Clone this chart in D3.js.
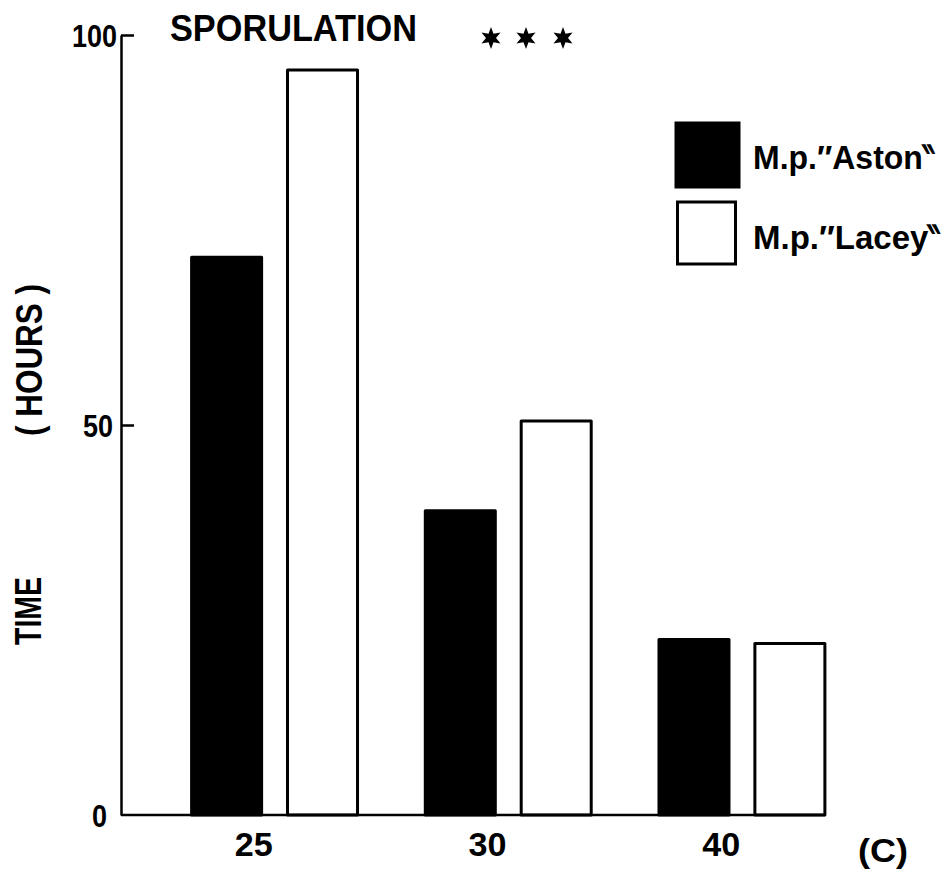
<!DOCTYPE html>
<html>
<head>
<meta charset="utf-8">
<script src="https://cdn.jsdelivr.net/npm/d3@7"></script>
<style>
  body { margin: 0; background: #fff; }
  svg { display: block; }
  .lbl { font-family: "Liberation Sans", Arial, sans-serif; font-weight: bold; }
</style>
</head>
<body>
<svg id="chart"></svg>
<script>
// data
const categories = ['25', '30', '40']
const seriesNames = ['Aston', 'Lacey']
const legendLabels = ['M.p.\u2033Aston\u2036', 'M.p.\u2033Lacey\u2036']
const astonHours = [71.5, 39, 22.5]
const laceyHours = [95.5, 50.5, 22]
const yTickValues = [0, 50, 100]

const width = 949
const height = 872

const svg = d3.select('#chart')
  .attr('width', width)
  .attr('height', height)

const axisX = 121
const baseY = 815
const topY = 35

// build rows for the grouped bars
const rows = categories.map((c, i) => ({
  cat: c,
  values: [
    { key: 'Aston', value: astonHours[i] },
    { key: 'Lacey', value: laceyHours[i] }
  ]
}))

const y = d3.scaleLinear().domain([0, 100]).range([baseY, topY])

const x0 = d3.scaleBand()
  .domain(categories)
  .range([axisX + 0.5, 895])
  .paddingInner(0.29)
  .paddingOuter(0.3)

const x1 = d3.scaleBand()
  .domain(seriesNames)
  .range([0, x0.bandwidth()])
  .paddingInner(0.27)

const fill = { Aston: '#000', Lacey: '#fff' }

// bars
const groups = svg.append('g')
  .selectAll('g')
  .data(rows)
  .enter()
  .append('g')
  .attr('transform', d => `translate(${x0(d.cat)},0)`)

groups.selectAll('rect')
  .data(d => d.values)
  .enter()
  .append('rect')
  .attr('x', d => x1(d.key))
  .attr('y', d => y(d.value))
  .attr('width', x1.bandwidth())
  .attr('height', d => y(0) - y(d.value))
  .attr('fill', d => fill[d.key])
  .attr('stroke', '#000')
  .attr('stroke-width', 3)
  .attr('stroke-linejoin', 'round')

// baseline up to the last bar
const lastRight = x0(categories[categories.length - 1]) + x1('Lacey') + x1.bandwidth()
svg.append('line')
  .attr('x1', axisX)
  .attr('x2', lastRight)
  .attr('y1', baseY)
  .attr('y2', baseY)
  .attr('stroke', '#000')
  .attr('stroke-width', 2.5)

// y axis, ticks pointing inward
const gy = svg.append('g')
  .attr('transform', `translate(${axisX},0)`)
  .call(d3.axisLeft(y).tickValues(yTickValues).tickSizeInner(-13).tickSizeOuter(0).tickPadding(5))

gy.select('.domain').attr('stroke-width', 2.5)
gy.selectAll('.tick line').attr('stroke-width', 2.5)
gy.selectAll('.tick').filter(d => d === 0).select('line').remove()

// labels: the right edge creeps left going down in the scan
const tickRight = { 0: -14, 50: -8, 100: -4 }
gy.selectAll('.tick text')
  .attr('class', 'lbl')
  .attr('font-size', 32)
  .attr('fill', '#000')
  .attr('dy', '0.36em')
  .attr('text-anchor', 'start')
  .attr('x', d => tickRight[d] - String(d).length * 15)
  .attr('textLength', d => String(d).length * 15)
  .attr('lengthAdjust', 'spacingAndGlyphs')

// x labels (sit left of the group centre in the original)
const gx = svg.append('g')
  .attr('transform', `translate(${-x0.bandwidth() * 0.125},${baseY})`)
  .call(d3.axisBottom(x0).tickSize(0).tickPadding(18))

gx.select('.domain').remove()
gx.selectAll('.tick text')
  .attr('class', 'lbl')
  .attr('font-size', 33)
  .attr('fill', '#000')
  .attr('textLength', 38)
  .attr('lengthAdjust', 'spacingAndGlyphs')

svg.append('text')
  .attr('class', 'lbl')
  .attr('x', 883)
  .attr('y', 862)
  .attr('text-anchor', 'middle')
  .attr('font-size', 34)
  .attr('textLength', 50)
  .attr('lengthAdjust', 'spacingAndGlyphs')
  .text('(C)')

// y title
svg.append('text')
  .attr('class', 'lbl')
  .attr('transform', 'translate(41,611) rotate(-90)')
  .attr('text-anchor', 'middle')
  .attr('font-size', 36)
  .attr('textLength', 68)
  .attr('lengthAdjust', 'spacingAndGlyphs')
  .text('TIME')

svg.append('text')
  .attr('class', 'lbl')
  .attr('transform', 'translate(42,360) rotate(-90)')
  .attr('text-anchor', 'middle')
  .attr('font-size', 36)
  .attr('textLength', 152)
  .attr('lengthAdjust', 'spacingAndGlyphs')
  .text('( HOURS )')

// title and stars
svg.append('text')
  .attr('class', 'lbl')
  .attr('x', 170)
  .attr('y', 41)
  .attr('font-size', 36)
  .attr('textLength', 247)
  .attr('lengthAdjust', 'spacingAndGlyphs')
  .text('SPORULATION')

const starPts = d3.range(12).map(i => [i * Math.PI / 6, i % 2 ? 5 : 11])
const starPath = d3.lineRadial().curve(d3.curveLinearClosed)(starPts)
svg.append('g')
  .selectAll('path')
  .data([491, 526, 563])
  .enter()
  .append('path')
  .attr('d', starPath)
  .attr('transform', d => `translate(${d},38)`)
  .attr('fill', '#000')

// legend
const legend = svg.append('g')
  .selectAll('g')
  .data(seriesNames)
  .enter()
  .append('g')
  .attr('transform', (d, i) => `translate(676,${i === 0 ? 123 : 202})`)

legend.append('rect')
  .attr('x', (d, i) => i === 0 ? 0 : 1.5)
  .attr('y', 0)
  .attr('width', (d, i) => i === 0 ? 63 : 58)
  .attr('height', (d, i) => i === 0 ? 64 : 62)
  .attr('fill', d => fill[d])
  .attr('stroke', '#000')
  .attr('stroke-width', 3)

legend.append('text')
  .attr('class', 'lbl')
  .attr('x', 77)
  .attr('y', (d, i) => i === 0 ? 46 : 47)
  .attr('font-size', 34)
  .attr('textLength', (d, i) => i === 0 ? 184 : 190)
  .attr('lengthAdjust', 'spacingAndGlyphs')
  .text((d, i) => legendLabels[i])
</script>
</body>
</html>
